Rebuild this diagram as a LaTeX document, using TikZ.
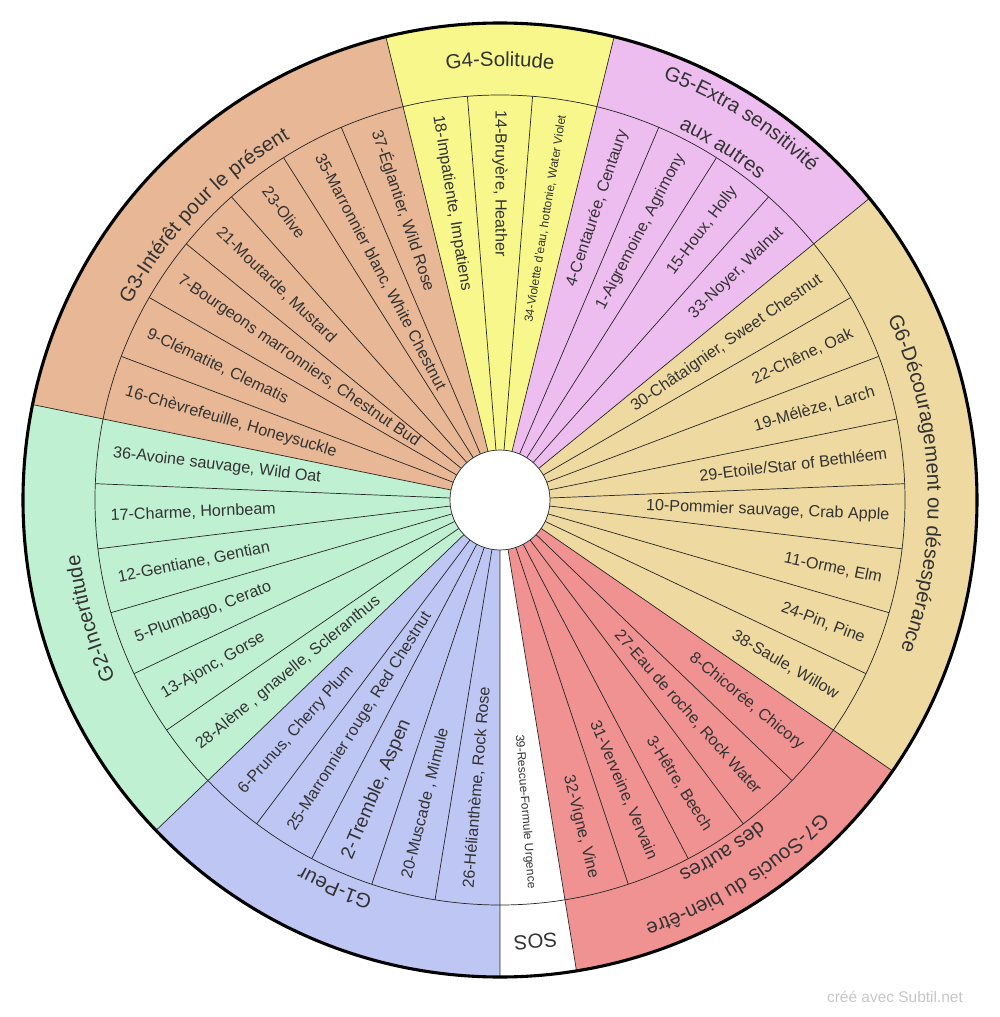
\documentclass[tikz,border=0pt]{standalone}
\usepackage{fontspec}
\setmainfont{Liberation Sans}
\usetikzlibrary{decorations.text}
\definecolor{txt}{HTML}{333333}
\definecolor{gthree}{HTML}{E8B795}
\definecolor{gtwo}{HTML}{C0F0D2}
\definecolor{gone}{HTML}{BEC6F4}
\definecolor{gseven}{HTML}{F09292}
\definecolor{gsix}{HTML}{EED9A0}
\definecolor{gfive}{HTML}{EEBDF0}
\definecolor{gfour}{HTML}{F7F78C}
\newcommand\grpfont{\fontsize{14.5}{16}\selectfont}
\tikzset{
  itemlabel/.style={text=txt, font=\fontsize{11.5}{13}\selectfont, inner sep=0pt},
  spoke/.style={line width=0.5pt, black!85},
}
\begin{document}
\begin{tikzpicture}
\useasboundingbox (-12.5,-12.925) rectangle (12.5,12.5);

%group sectors
\foreach \a/\b/\c in {76.154/103.846/gfour, 39.231/76.154/gfive, -34.615/39.231/gsix,
  -80.769/-34.615/gseven, -90/-80.769/white, -136.154/-90/gone,
  -191.538/-136.154/gtwo, -256.154/-191.538/gthree}
\fill[\c] (0,0) -- (\a:11.925) arc[start angle=\a, end angle=\b, radius=11.925] -- cycle;

%draw spokes
\foreach \k in {0,...,38}
\draw[spoke] (103.846-9.2308*\k:1.25) -- (103.846-9.2308*\k:10.125);
\foreach \k in {0,3,7,15,20,21,26,32}
\draw[spoke] (103.846-9.2308*\k:10.125) -- (103.846-9.2308*\k:11.925);
\draw[spoke] (0,0) circle (10.125);

%item labels
\foreach \t [count=\i from 0] in {{18-Impatiente, Impatiens},{14-Bruyère, Heather},
  {\fontsize{8.5}{10}\selectfont 34-Violette d'eau, hottonie, Water Violet},
  {4-Centaurée, Centaury},{1-Aigremoine, Agrimony},{15-Houx, Holly},{33-Noyer, Walnut},
  {30-Châtaignier, Sweet Chestnut},{22-Chêne, Oak},{19-Mélèze, Larch},{29-Etoile/Star of Bethléem},
  {10-Pommier sauvage, Crab Apple},{11-Orme, Elm},{24-Pin, Pine},{38-Saule, Willow},
  {8-Chicorée, Chicory},{27-Eau de roche, Rock Water},{3-Hêtre, Beech},{31-Verveine, Vervain},
  {32-Vigne, Vine},{\fontsize{8.5}{10}\selectfont 39-Rescue-Formule Urgence},
  {26-Hélianthème, Rock Rose},{20-Muscade ,  Mimule},{\fontsize{13.5}{15}\selectfont 2-Tremble, Aspen},
  {25-Marronnier rouge, Red Chestnut},{6-Prunus, Cherry Plum},
  {28-Alène , gnavelle, Scleranthus},{13-Ajonc, Gorse},{5-Plumbago, Cerato},{12-Gentiane, Gentian},
  {17-Charme, Hornbeam},{36-Avoine sauvage, Wild Oat},
  {16-Chèvrefeuille, Honeysuckle},{9-Clématite, Clematis},{7-Bourgeons marronniers, Chestnut Bud},
  {21-Moutarde, Mustard},{23-Olive},{35-Marronnier blanc, White Chestnut},{37-Églantier, Wild Rose}}
{
  \pgfmathsetmacro\ang{99.2308-9.2308*\i}
  \pgfmathparse{(\ang>89.9 || \ang<-90.1) ? 1 : 0}
  \ifnum\pgfmathresult=1
    \node[itemlabel, anchor=west, rotate=\ang+180] (item\i) at (\ang:9.75) {\t};
  \else
    \node[itemlabel, anchor=east, rotate=\ang] (item\i) at (\ang:9.75) {\t};
  \fi
}

%group labels
\foreach \a/\b/\r/\t in {76.154/103.846/10.85/G4-Solitude,
  39.231/76.154/11.3/G5-Extra sensitivité, 39.231/76.154/10.3/aux autres,
  -34.615/39.231/10.7/G6-Découragement ou désespérance,
  -80.769/-34.615/11.2/G7-Soucis du bien-être, -80.769/-34.615/10.3/des autres,
  -90/-80.769/10.9/SOS, -136.154/-90/10.4/G1-Peur,
  -191.538/-136.154/10.6/G2-Incertitude, -256.154/-191.538/10.45/G3-Intérêt pour le présent}
\path[decorate, decoration={text along path, text align=center,
  text/.expanded={|\noexpand\grpfont\noexpand\color{txt}|\t}}]
  (\b:\r) arc[start angle=\b, end angle=\a, radius=\r];

%hole and rim
\draw[spoke, fill=white] (0,0) circle (1.25);
\draw[line width=2.2pt] (0,0) circle (11.925);
\node[text=black!22, font=\fontsize{11}{13}\selectfont] (credit) at (9.875,-12.425) {créé avec Subtil.net};
\end{tikzpicture}
\end{document}
